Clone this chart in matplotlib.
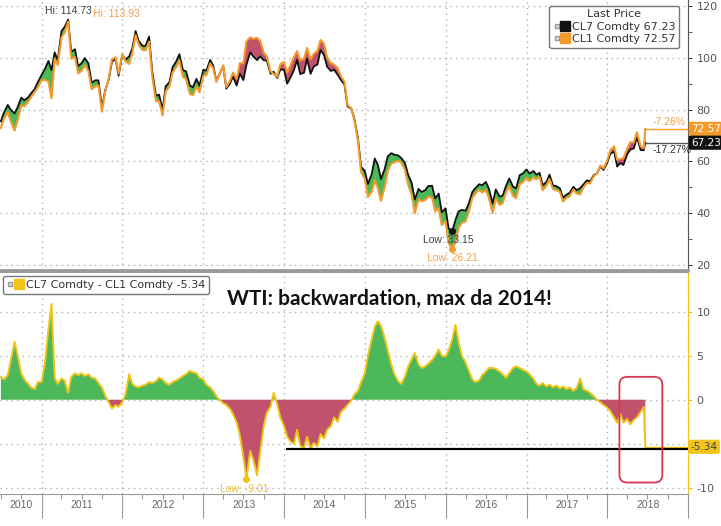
import numpy as np
import pandas as pd
import matplotlib
matplotlib.use('Agg')
import matplotlib.pyplot as plt
import matplotlib.dates as mdates
from matplotlib.lines import Line2D
from matplotlib.legend_handler import HandlerTuple
from matplotlib.patches import FancyBboxPatch
from matplotlib.ticker import MultipleLocator

# sample dates: 1st and 15th of each month, plus the last print
dates = pd.DatetimeIndex(list(pd.date_range('2010-07-01', '2018-06-15', freq='SMS'))
                         + [pd.Timestamp('2018-06-22')])

# CL1 (front month WTI)
cl1_2010 = [72.9, 76.6, 79.0, 75.4, 71.9, 76.0, 81.6, 81.3, 82.9, 84.9, 86.8, 88.6]
cl1_2011 = [91.4, 91.5, 90.8, 84.3, 99.6, 97.2, 107.9, 109.7, 113.93, 99.7, 100.3, 94.0,
            94.9, 97.2, 94.9, 87.9, 88.9, 89.4, 79.2, 86.8, 92.2, 99.4, 100.2, 93.9]
cl1_2012 = [101.5, 98.7, 97.6, 101.8, 108.8, 105.1, 103.0, 102.9, 106.2, 93.0, 83.2, 83.3,
            77.7, 87.1, 88.9, 94.3, 96.5, 99.0, 92.5, 91.9, 86.1, 85.5, 88.9, 86.7]
cl1_2013 = [93.1, 93.3, 97.8, 95.9, 90.7, 93.5, 97.1, 88.7, 91.0, 94.3, 91.9, 97.9,
            97.9, 106.3, 107.9, 107.3, 107.7, 106.6, 102.0, 100.5, 94.6, 93.8, 92.7, 97.5]
cl1_2014 = [98.4, 94.2, 97.5, 100.3, 102.6, 98.9, 99.7, 103.8, 99.4, 101.5, 102.7, 106.9,
            105.4, 99.9, 97.9, 97.4, 95.9, 92.9, 90.7, 81.8, 80.5, 75.8, 68.0, 55.9]
cl1_2015 = [53.3, 46.3, 48.2, 52.8, 49.8, 44.8, 50.1, 56.4, 59.2, 59.7, 60.2, 59.5,
            56.9, 51.4, 47.1, 40.0, 45.4, 44.6, 45.1, 46.4, 46.1, 40.7, 41.9, 35.4]
cl1_2016 = [37.0, 28.5, 26.21, 29.0, 34.4, 36.3, 36.8, 40.4, 45.9, 47.7, 49.0, 48.0,
            48.9, 45.9, 40.1, 45.7, 43.2, 43.9, 48.2, 50.4, 46.7, 45.8, 51.1, 51.9]
cl1_2017 = [53.7, 52.4, 53.9, 53.1, 54.0, 48.9, 50.6, 53.2, 49.3, 48.9, 48.3, 44.5,
            46.0, 46.5, 49.2, 47.6, 47.3, 49.9, 51.7, 51.5, 54.3, 55.3, 58.4, 57.3]
cl1_2018 = [60.4, 64.3, 65.8, 60.6, 61.0, 61.2, 64.9, 67.4, 67.3, 71.3, 65.8, 65.1, 72.57]

# CL7 - CL1 spread
spr_2010 = [2.6, 2.3, 2.8, 4.5, 6.6, 5.0, 3.0, 2.3, 1.8, 1.4, 1.2, 2.0]
spr_2011 = [2.0, 4.0, 8.0, 10.9, 2.5, 1.8, 2.4, 2.2, 0.8, 2.6, 3.0, 2.8,
            3.0, 2.7, 2.9, 2.5, 2.4, 1.9, 1.4, 0.5, -0.3, -1.0, -0.6, -0.8]
spr_2012 = [-0.3, 0.6, 2.9, 1.8, 1.5, 1.4, 1.6, 1.7, 2.0, 1.9, 2.1, 2.5,
            2.3, 1.9, 1.7, 2.0, 2.2, 2.4, 2.7, 2.9, 3.3, 3.1, 3.0, 2.5]
spr_2013 = [2.3, 1.7, 1.4, 1.0, 0.4, 0.0, -0.4, -0.6, -1.0, -1.6, -2.6, -4.0,
            -6.5, -9.01, -5.8, -6.8, -8.6, -6.0, -3.0, -1.5, -0.8, 0.8, -0.5, -2.0]
spr_2014 = [-3.0, -4.2, -4.8, -5.0, -3.4, -5.2, -5.5, -4.2, -5.6, -4.9, -5.3, -3.9,
            -4.4, -3.4, -3.0, -2.0, -2.5, -1.4, -1.0, -0.6, -0.1, 0.6, 1.0, 2.0]
spr_2015 = [3.0, 5.0, 6.8, 8.3, 8.9, 8.4, 7.0, 5.6, 4.0, 2.9, 2.1, 1.8,
            2.6, 3.7, 4.6, 5.3, 4.0, 3.6, 3.8, 4.1, 4.5, 5.0, 5.7, 5.0]
spr_2016 = [4.9, 5.6, 6.94, 8.5, 6.4, 5.0, 4.2, 3.3, 2.3, 2.0, 2.2, 2.8,
            3.2, 3.6, 3.6, 3.5, 3.2, 2.9, 2.5, 3.0, 3.6, 3.8, 3.6, 3.4]
spr_2017 = [3.2, 2.9, 2.4, 1.8, 1.6, 1.9, 1.5, 1.7, 1.4, 1.6, 1.3, 1.5,
            1.2, 1.4, 1.0, 1.3, 2.4, 1.2, 1.0, 0.8, 0.4, 0.0, -0.3, -0.6]
spr_2018 = [-0.9, -1.3, -2.0, -2.6, -1.6, -2.6, -2.2, -2.8, -2.3, -2.0, -1.4, -0.8, -5.34]

cl1 = np.array(cl1_2010 + cl1_2011 + cl1_2012 + cl1_2013 + cl1_2014
               + cl1_2015 + cl1_2016 + cl1_2017 + cl1_2018)
spread = np.array(spr_2010 + spr_2011 + spr_2012 + spr_2013 + spr_2014
                  + spr_2015 + spr_2016 + spr_2017 + spr_2018)
cl7 = cl1 + spread

years = list(range(2010, 2019))
pct_cl1 = '-7.26%'
pct_cl7 = '-17.27%'
spread_ticks = [-10, -5, 0, 5, 10]
spread_ticklabels = ['-10', '', '0', '5', '10']   # -5 sits under the last value tag

ORANGE = '#f39a2b'
BLACK = '#111111'
GREEN = '#4cb85a'
MAUVE = '#c0526b'
YELLOW = '#f0c419'
GRID = '#b0b0b0'
TXT = '#555555'

x_left = pd.Timestamp('2010-06-27')
x_right = pd.Timestamp('2019-01-01')

fig = plt.figure(figsize=(7.21, 5.26), dpi=100)
W, H = 721, 526
ax1 = fig.add_axes([0, 1 - 270 / H, 688 / W, 270 / H])
ax2 = fig.add_axes([0, 1 - 494 / H, 688 / W, 222 / H], sharex=ax1)

dotted = dict(ls=(0, (1, 3)), color=GRID, lw=1)

# ---------- price panel ----------
ax1.fill_between(dates, cl1, cl7, where=cl7 >= cl1, interpolate=True, color=GREEN, lw=0)
ax1.fill_between(dates, cl1, cl7, where=cl7 < cl1, interpolate=True, color=MAUVE, lw=0)
ax1.plot(dates, cl7, color=BLACK, lw=1.3)
ax1.plot(dates, cl1, color=ORANGE, lw=1.5)
ax1.hlines(cl1[-1], dates[-1], x_right, color=ORANGE, lw=1)
ax1.hlines(cl7[-1], dates[-1], x_right, color='#555555', lw=1)

ax1.set_xlim(x_left, x_right)
ax1.set_ylim(18.1, 122.3)
ax1.xaxis.set_major_locator(mdates.YearLocator())
ax1.yaxis.tick_right()
ax1.set_yticks([20, 40, 60, 80, 100, 120])
ax1.yaxis.set_minor_locator(MultipleLocator(10))
ax1.tick_params(axis='y', which='both', direction='out', length=3, pad=3,
                labelsize=8, labelcolor=TXT, color='#444444')
ax1.tick_params(axis='x', which='both', length=0, labelbottom=False)
ax1.grid(True, which='major', **dotted)
ax1.set_axisbelow(True)
for s in ['left', 'top']:
    ax1.spines[s].set_visible(False)
ax1.spines['right'].set_color('#555555')
ax1.spines['bottom'].set_color('#9a9a9a')
ax1.spines['bottom'].set_linewidth(2)

# hi / low annotations
lab = dict(fontsize=7.5, family='Liberation Sans', textcoords='offset points')
i = np.argmax(cl7)
ax1.annotate(f'Hi: {cl7[i]:.2f}', (dates[i], cl7[i]), xytext=(0, 6), ha='center',
             va='center', color='#3a3f4a', **lab)
i = np.argmax(cl1)
ax1.annotate(f'Hi: {cl1[i]:.2f}', (dates[i], cl1[i]), xytext=(18, 5.5), ha='left',
             va='center', color='#f0a050', **lab)
i = np.argmin(cl7)
ax1.plot(dates[i], cl7[i], 'o', color=BLACK, ms=4)
ax1.annotate(f'Low: {cl7[i]:.2f}', (dates[i], cl7[i]), xytext=(-3, -6.5), ha='center',
             va='center', color='#3a3f4a', **lab)
i = np.argmin(cl1)
ax1.plot(dates[i], cl1[i], 'o', color=ORANGE, ms=4)
ax1.annotate(f'Low: {cl1[i]:.2f}', (dates[i], cl1[i]), xytext=(0, -6.5), ha='center',
             va='center', color='#f0a050', **lab)

# change labels and last value tags
ax1.annotate(pct_cl1, (dates[-1], cl1[-1]), xytext=(5, 1.5), ha='left', va='bottom',
             color='#f0a050', **lab)
ax1.annotate(pct_cl7, (dates[-1], cl7[-1]), xytext=(5, -1.5), ha='left', va='top',
             color='#333333', **lab)
ytr = ax1.get_yaxis_transform()
ax1.text(1.004, cl1[-1], f'{cl1[-1]:.2f}', transform=ytr, ha='left', va='center',
         fontsize=7.5, color='white',
         bbox=dict(boxstyle='round,pad=0.2', fc=ORANGE, ec='none'))
ax1.text(1.004, cl7[-1], f'{cl7[-1]:.2f}', transform=ytr, ha='left', va='center',
         fontsize=7.5, color='white',
         bbox=dict(boxstyle='round,pad=0.2', fc=BLACK, ec='none'))

icon = Line2D([], [], marker='s', ms=3.5, mfc='#e0e0e0', mec='#999999', ls='none')
h7 = (icon, Line2D([], [], marker='s', ms=7, color=BLACK, ls='none'))
h1 = (icon, Line2D([], [], marker='s', ms=7, color=ORANGE, ls='none'))
leg = ax1.legend([h7, h1], [f'CL7 Comdty {cl7[-1]:.2f}', f'CL1 Comdty {cl1[-1]:.2f}'],
                 handler_map={tuple: HandlerTuple(ndivide=None, pad=0.1)},
                 title='Last Price', loc='upper right', bbox_to_anchor=(685 / 688, 1.0),
                 fontsize=8, title_fontsize=8, handlelength=1.4, handletextpad=0.3,
                 borderpad=0.35, labelspacing=0.2, fancybox=True, framealpha=1,
                 edgecolor='#777777')
for t in leg.get_texts():
    t.set_color('#333333')
leg.get_title().set_color('#333333')

# ---------- spread panel ----------
ax2.fill_between(dates, 0, spread, where=spread >= 0, interpolate=True, color=GREEN, lw=0)
ax2.fill_between(dates, 0, spread, where=spread < 0, interpolate=True, color=MAUVE, lw=0)
ax2.plot(dates, spread, color=YELLOW, lw=1.4)
ax2.hlines(spread[-1], dates[-1], x_right, color=YELLOW, lw=1)

ax2.set_ylim(-10.7, 14.5)
ax2.yaxis.tick_right()
ax2.set_yticks(spread_ticks, spread_ticklabels)
ax2.tick_params(axis='y', direction='out', length=3, pad=3, labelsize=8,
                labelcolor=TXT, color=YELLOW)
ax2.grid(True, which='major', **dotted)
ax2.set_axisbelow(True)
ax2.spines['left'].set_visible(False)
ax2.spines['right'].set_color(YELLOW)
ax2.spines['top'].set_color('#9a9a9a')
ax2.spines['top'].set_linewidth(1.5)
ax2.spines['bottom'].set_color('#999999')

ax2.xaxis.set_major_locator(mdates.YearLocator())
ax2.xaxis.set_minor_locator(mdates.MonthLocator(bymonth=[1, 4, 7, 10]))
ax2.tick_params(axis='x', which='major', length=17, width=0.8, color='#999999',
                labelbottom=False)
ax2.tick_params(axis='x', which='minor', length=3.5, width=0.8, color='#999999')
xtr = ax2.get_xaxis_transform()
for y in years:
    a = max(pd.Timestamp(f'{y}-01-01'), x_left)
    b = pd.Timestamp(f'{y + 1}-01-01')
    ax2.text(a + (b - a) / 2, -0.05, str(y), transform=xtr, ha='center', va='center',
             fontsize=7.5, color='#666666', family='Liberation Sans')

i = np.argmin(spread)
ax2.plot(dates[i], spread[i], 'o', color=YELLOW, ms=4)
ax2.annotate(f'Low: {spread[i]:.2f}', (dates[i], spread[i]), xytext=(-1.5, -7),
             ha='center', va='center', color='#e8c030', **lab)

ax2.text(1.004, spread[-1], f'{spread[-1]:.2f}', transform=ax2.get_yaxis_transform(),
         ha='left', va='center', fontsize=7.5, color='#444444',
         bbox=dict(boxstyle='round,pad=0.2', fc=YELLOW, ec='none'))

h_s = (icon, Line2D([], [], marker='s', ms=7, color=YELLOW, ls='none'))
leg2 = ax2.legend([h_s], [f'CL7 Comdty - CL1 Comdty {spread[-1]:.2f}'],
                  handler_map={tuple: HandlerTuple(ndivide=None, pad=0.1)},
                  loc='upper left', bbox_to_anchor=(3 / 688, 1 - 4 / 222), borderaxespad=0,
                  fontsize=8, handlelength=1.4, handletextpad=0.3, borderpad=0.35,
                  fancybox=True, framealpha=1, edgecolor='#777777')
for t in leg2.get_texts():
    t.set_color('#333333')

ax2.text(227 / 688, 0.878, 'WTI: backwardation, max da 2014!', transform=ax2.transAxes,
         ha='left', va='center', fontsize=15, fontweight='bold', family='Lato',
         color='#111111')

# max-since-2014 reference line and highlight box
ax2.hlines(-5.6, pd.Timestamp('2014-01-12'), x_right, color='black', lw=1.6)
bx0 = mdates.date2num(pd.Timestamp('2018-02-25'))
bx1 = mdates.date2num(pd.Timestamp('2018-09-07'))
px_day = (688 / 8.51) / 365.25
px_unit = 222 / (14.5 + 10.7)
ax2.add_patch(FancyBboxPatch((bx0, -9.4), bx1 - bx0, 12.0,
                             boxstyle='round,pad=0,rounding_size=36',
                             mutation_aspect=px_day / px_unit,
                             fc='none', ec='#d8384f', lw=1.3, zorder=5))

fig.savefig('out.png', dpi=100)
